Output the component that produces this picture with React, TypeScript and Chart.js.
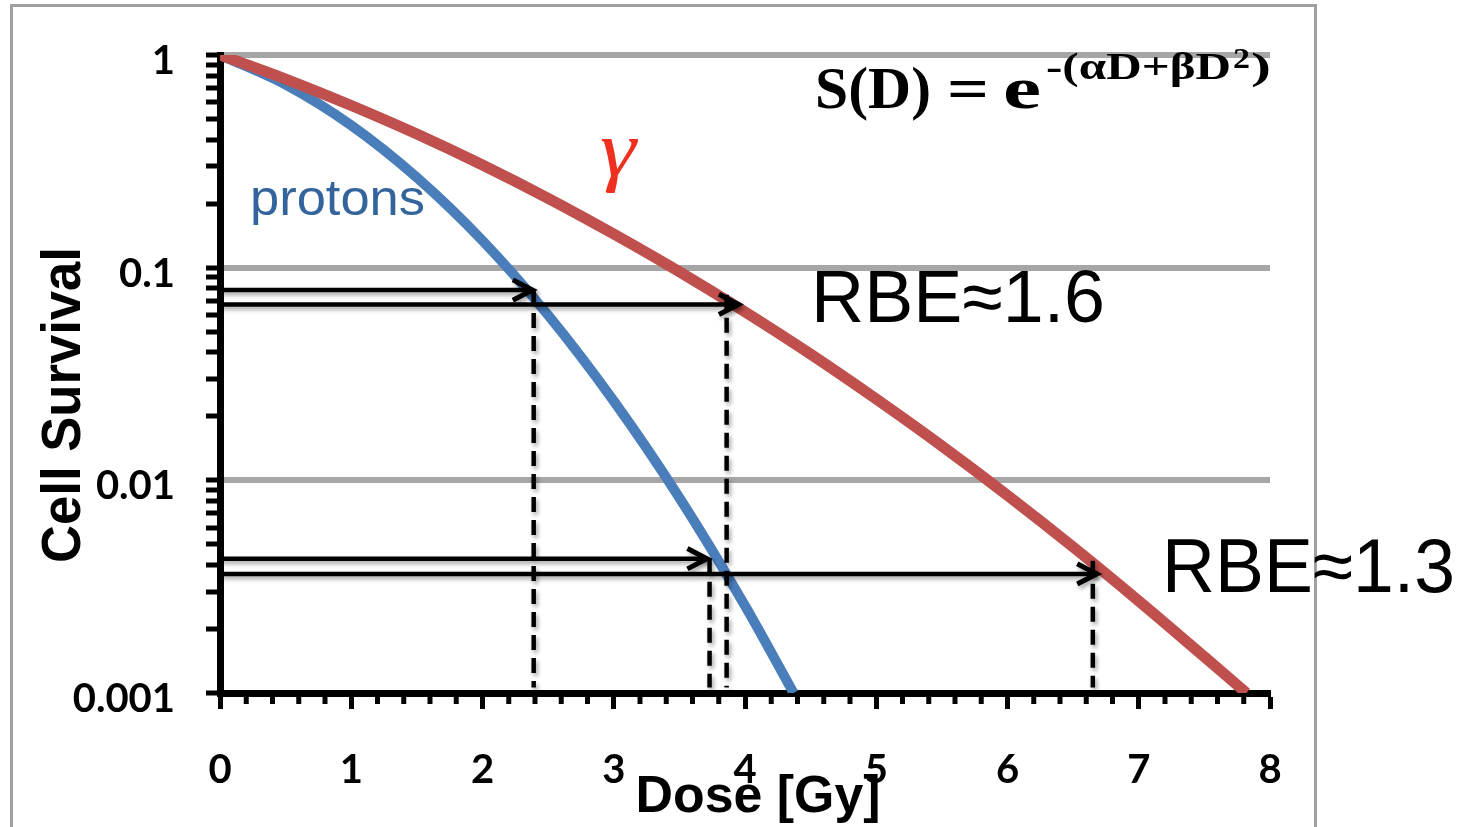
import React, { useEffect, useRef } from 'react';
import { Chart, registerables } from 'chart.js';

Chart.register(...registerables);

// ---------------- data ----------------
const X_TICKS = [0, 1, 2, 3, 4, 5, 6, 7, 8];
const X_MINOR_STEP = 0.2;
const Y_MAJOR = [0.001, 0.01, 0.1, 1];
const Y_LABELS = ['0.001', '0.01', '0.1', '1'];
const Y_MINOR_MULT = [2, 3, 4, 5, 6, 7, 8, 9];

const DOSE_GAMMA = [0, 0.5, 1, 1.5, 2, 2.5, 3, 3.5, 4, 4.5, 5, 5.5, 6, 6.5, 7, 7.5, 7.82];
const SURV_GAMMA = [1, 0.771, 0.579, 0.425, 0.304, 0.212, 0.144, 0.0957, 0.062, 0.0392, 0.0241, 0.0145, 0.0085, 0.00486, 0.00271, 0.00148, 0.001];

const DOSE_PROTON = [0, 0.5, 1, 1.5, 2, 2.5, 3, 3.5, 4, 4.37];
const SURV_PROTON = [1, 0.726, 0.467, 0.2655, 0.134, 0.0598, 0.0236, 0.00828, 0.00257, 0.001];

// horizontal arrows (iso-survival levels)
const ARROW_LEVEL = [0.0785, 0.0672, 0.00428, 0.00363];
const ARROW_START = [0, 0, 0, 0];
const ARROW_END = [2.38, 3.95, 3.71, 6.68];

// vertical dashed drop lines
const DROP_DOSE = [2.39, 3.86, 3.73, 6.65];
const DROP_TOP = [0.0785, 0.0745, 0.00428, 0.00419];
const DROP_BOTTOM = 0.00106;

// ---------------- helpers ----------------
const Y_TICK_VALUES: number[] = [];
Y_MAJOR.forEach((d, i) => {
  Y_TICK_VALUES.push(d);
  if (i < Y_MAJOR.length - 1) Y_MINOR_MULT.forEach((m) => Y_TICK_VALUES.push(+(m * d).toPrecision(3)));
});

function drawText(
  ctx: CanvasRenderingContext2D,
  text: string,
  x: number,
  y: number,
  font: string,
  color: string,
  width?: number,
  align: CanvasTextAlign = 'left'
) {
  ctx.save();
  ctx.font = font;
  ctx.fillStyle = color;
  ctx.textBaseline = 'alphabetic';
  ctx.textAlign = align;
  const w = ctx.measureText(text).width;
  const sx = width ? width / w : 1;
  ctx.translate(x, y);
  ctx.scale(sx, 1);
  ctx.fillText(text, 0, 0);
  ctx.restore();
}

function setShadow(ctx: CanvasRenderingContext2D) {
  ctx.shadowColor = 'rgba(0,0,0,0.35)';
  ctx.shadowBlur = 4;
  ctx.shadowOffsetX = 2;
  ctx.shadowOffsetY = 3;
}

const decorPlugin = {
  id: 'decor',
  beforeDatasetDraw(chart: any, args: any) {
    const ds = chart.data.datasets[args.index];
    if (ds.shadow) {
      chart.ctx.save();
      setShadow(chart.ctx);
    }
  },
  afterDatasetDraw(chart: any, args: any) {
    const ds = chart.data.datasets[args.index];
    if (ds.shadow) chart.ctx.restore();
  },
  afterDatasetsDraw(chart: any) {
    const ctx = chart.ctx;
    chart.data.datasets.forEach((ds: any, i: number) => {
      if (!ds.arrow) return;
      const meta = chart.getDatasetMeta(i);
      const p0 = meta.data[0];
      const p1 = meta.data[meta.data.length - 1];
      const ang = Math.atan2(p1.y - p0.y, p1.x - p0.x);
      const L = 22;
      const spread = 0.48;
      ctx.save();
      setShadow(ctx);
      ctx.strokeStyle = '#000';
      ctx.lineWidth = 5;
      ctx.lineJoin = 'miter';
      ctx.lineCap = 'butt';
      ctx.beginPath();
      ctx.moveTo(p1.x - L * Math.cos(ang - spread), p1.y - L * Math.sin(ang - spread));
      ctx.lineTo(p1.x, p1.y);
      ctx.lineTo(p1.x - L * Math.cos(ang + spread), p1.y - L * Math.sin(ang + spread));
      ctx.stroke();
      ctx.restore();
    });
  },
  afterDraw(chart: any) {
    const ctx = chart.ctx;
    const xs = chart.scales.x;
    // minor x ticks
    ctx.save();
    ctx.strokeStyle = '#000';
    ctx.lineWidth = 5;
    const n = Math.round((X_TICKS[X_TICKS.length - 1] - X_TICKS[0]) / X_MINOR_STEP);
    for (let k = 1; k < n; k++) {
      if (k % 5 === 0) continue;
      const px = xs.getPixelForValue(X_TICKS[0] + k * X_MINOR_STEP);
      ctx.beginPath();
      ctx.moveTo(px, xs.top);
      ctx.lineTo(px, xs.top + 11);
      ctx.stroke();
    }
    ctx.restore();

    // texts
    drawText(ctx, 'protons', 250, 215, '50px "Liberation Sans"', '#34649C', 175);
    drawText(ctx, 'γ', 600, 176, 'italic 80px "Liberation Serif"', '#F0301E', 36);
    drawText(ctx, 'RBE≈1.6', 811, 322, '74px "Liberation Sans"', '#000', 294);
    drawText(ctx, 'RBE≈1.3', 1162, 592, '76px "Liberation Sans"', '#000', 293);

    // formula
    drawText(ctx, 'S(D)', 815, 108, 'bold 60px "Liberation Serif"', '#000', 116);
    drawText(ctx, '=', 947, 108, 'bold 60px "Liberation Serif"', '#000', 42);
    drawText(ctx, 'e', 1003, 108, 'bold 60px "Liberation Serif"', '#000', 38);
    drawText(ctx, '-(αD+βD', 1046, 79, 'bold 38px "Liberation Serif"', '#000', 185);
    drawText(ctx, '2', 1233, 68, 'bold 30px "Liberation Serif"', '#000', 17);
    drawText(ctx, ')', 1251, 79, 'bold 38px "Liberation Serif"', '#000', 20);

    // axis titles
    drawText(ctx, 'Dose [Gy]', 758, 812, 'bold 52px "Liberation Sans"', '#000', 245, 'center');
    ctx.save();
    ctx.translate(80, 405);
    ctx.rotate(-Math.PI / 2);
    ctx.font = 'bold 55px "Liberation Sans"';
    ctx.fillStyle = '#000';
    ctx.textAlign = 'center';
    ctx.textBaseline = 'alphabetic';
    const w = ctx.measureText('Cell Survival').width;
    ctx.scale(316 / w, 1);
    ctx.fillText('Cell Survival', 0, 0);
    ctx.restore();
  },
};

export default function App() {
  const canvasRef = useRef<HTMLCanvasElement | null>(null);

  useEffect(() => {
    if (!canvasRef.current) return;

    const datasets: any[] = [];
    ARROW_LEVEL.forEach((lvl, i) => {
      datasets.push({
        label: 'arrow' + i,
        data: [
          { x: ARROW_START[i], y: lvl },
          { x: ARROW_END[i], y: lvl },
        ],
        borderColor: '#000',
        borderWidth: 4.5,
        pointRadius: 0,
        order: 0,
        arrow: true,
        shadow: true,
        clip: false,
      });
    });
    DROP_DOSE.forEach((d, i) => {
      datasets.push({
        label: 'drop' + i,
        data: [
          { x: d, y: DROP_TOP[i] },
          { x: d, y: DROP_BOTTOM },
        ],
        borderColor: '#000',
        borderWidth: 4.5,
        borderDash: [15, 8],
        pointRadius: 0,
        order: 0,
        shadow: true,
      });
    });
    datasets.push({
      label: 'γ',
      data: DOSE_GAMMA.map((x, i) => ({ x, y: SURV_GAMMA[i] })),
      borderColor: '#C0504D',
      borderWidth: 11,
      pointRadius: 0,
      cubicInterpolationMode: 'monotone',
      order: 1,
    });
    datasets.push({
      label: 'protons',
      data: DOSE_PROTON.map((x, i) => ({ x, y: SURV_PROTON[i] })),
      borderColor: '#4A7EBB',
      borderWidth: 10,
      pointRadius: 0,
      cubicInterpolationMode: 'monotone',
      order: 2,
    });

    const tickFont = { family: 'Lato', weight: 'bold' as const, size: 40 };

    const chart = new Chart(canvasRef.current, {
      type: 'line',
      data: { datasets },
      plugins: [decorPlugin],
      options: {
        responsive: false,
        animation: false,
        layout: { padding: { top: 50, left: 0, right: 198, bottom: 0 } },
        plugins: { legend: { display: false }, tooltip: { enabled: false } },
        scales: {
          x: {
            type: 'linear',
            min: X_TICKS[0],
            max: X_TICKS[X_TICKS.length - 1],
            afterBuildTicks: (scale: any) => {
              scale.ticks = X_TICKS.map((v) => ({ value: v, major: true }));
            },
            afterFit: (scale: any) => {
              scale.height = 134;
            },
            grid: {
              drawOnChartArea: false,
              drawTicks: true,
              tickLength: 16,
              tickWidth: 5,
              tickColor: '#000',
            },
            border: { display: true, color: '#000', width: 7 },
            ticks: {
              autoSkip: false,
              maxRotation: 0,
              padding: 37,
              color: '#000',
              font: tickFont,
              callback: (v: any) => String(v),
            },
          },
          y: {
            type: 'logarithmic',
            min: Y_MAJOR[0],
            max: Y_MAJOR[Y_MAJOR.length - 1],
            afterBuildTicks: (scale: any) => {
              scale.ticks = Y_TICK_VALUES.map((v) => ({ value: v, major: Y_MAJOR.includes(v) }));
            },
            afterFit: (scale: any) => {
              scale.width = 220;
            },
            grid: {
              drawOnChartArea: true,
              drawTicks: true,
              tickLength: 14,
              lineWidth: 6,
              tickWidth: 5,
              tickColor: '#000',
              color: (c: any) =>
                c.tick && c.tick.major && c.tick.value > Y_MAJOR[0] ? '#A6A6A6' : 'rgba(0,0,0,0)',
            },
            border: { display: true, color: '#000', width: 7 },
            ticks: {
              autoSkip: false,
              padding: 31,
              labelOffset: 6,
              color: '#000',
              font: tickFont,
              callback: (v: any) => {
                const idx = Y_MAJOR.indexOf(Number(v));
                return idx >= 0 ? Y_LABELS[idx] : '';
              },
            },
          },
        },
      } as any,
    });

    return () => chart.destroy();
  }, []);

  return (
    <div
      style={{
        position: 'absolute',
        left: 0,
        top: 0,
        width: 1468,
        height: 827,
        overflow: 'hidden',
        background: '#fff',
      }}
    >
      <div
        style={{
          position: 'absolute',
          left: 10,
          top: 4,
          width: 1307,
          height: 900,
          boxSizing: 'border-box',
          border: '3px solid #A0A0A0',
        }}
      />
      <canvas
        ref={canvasRef}
        width={1468}
        height={827}
        style={{ position: 'absolute', left: 0, top: 0, width: 1468, height: 827 }}
      />
    </div>
  );
}
